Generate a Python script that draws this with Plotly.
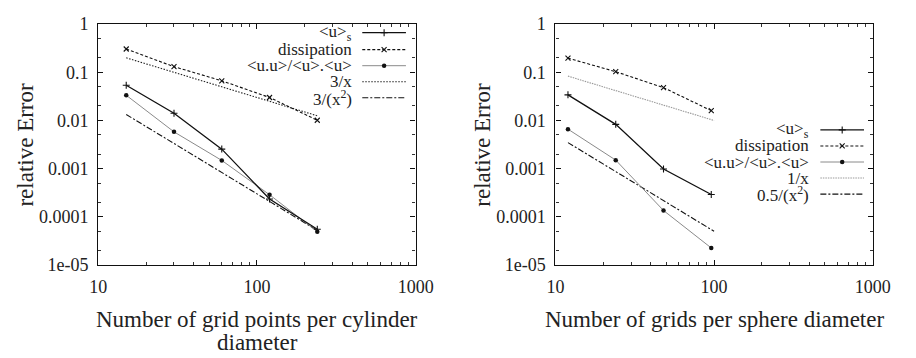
import plotly.graph_objects as go

# ---------------- data ----------------
left_x = [15, 30, 60, 120, 240]
left_us = [0.054, 0.0141, 0.00254, 0.000234, 5.5e-5]
left_diss = [0.305, 0.131, 0.0667, 0.030, 0.0101]
left_uu = [0.0334, 0.0058, 0.00148, 0.000287, 4.9e-5]
left_ref_x = [15, 240]
left_ref1 = [0.2, 0.0125]        # 3/x
left_ref2 = [0.0133, 5.2e-5]     # 3/(x^2)

right_x = [12, 24, 48, 96]
right_us = [0.034, 0.0083, 0.00098, 0.00029]
right_diss = [0.197, 0.103, 0.048, 0.016]
right_uu = [0.0066, 0.0015, 0.000135, 2.25e-5]
right_ref_x = [12, 100]
right_ref1 = [0.0833, 0.01]      # 1/x
right_ref2 = [0.00347, 5e-5]     # 0.5/(x^2)

x_tickvals = [10, 100, 1000]
x_ticktext = ["10", "100", "1000"]
y_tickvals = [1e-5, 1e-4, 1e-3, 1e-2, 1e-1, 1]
y_ticktext = ["1e-05", "0.0001", "0.001", "0.01", "0.1", "1"]

left_names = ["&lt;u&gt;<sub>s</sub>", "dissipation", "&lt;u.u&gt;/&lt;u&gt;.&lt;u&gt;", "3/x", "3/(x<sup>2</sup>)"]
right_names = ["&lt;u&gt;<sub>s</sub>", "dissipation", "&lt;u.u&gt;/&lt;u&gt;.&lt;u&gt;", "1/x", "0.5/(x<sup>2</sup>)"]

left_title = ["Number of grid points per cylinder", "diameter"]
right_title = ["Number of grids per sphere diameter"]
y_title = "relative Error"

# ---------------- styles ----------------
FONT = "Liberation Serif"
W, H = 916, 358
styles = [
    dict(line=dict(color="#111", width=1.3), marker=dict(symbol="cross-thin", size=5, line=dict(color="#111", width=1.1)), mode="lines+markers"),
    dict(line=dict(color="#111", width=1.1, dash="3px,2px"), marker=dict(symbol="x-thin", size=5, line=dict(color="#111", width=1.1)), mode="lines+markers"),
    dict(line=dict(color="#8a8a8a", width=1.0), marker=dict(symbol="circle", size=4.5, color="#111"), mode="lines+markers"),
    dict(line=dict(color="#222", width=1.1, dash="1.5px,1.5px"), mode="lines"),
    dict(line=dict(color="#111", width=1.1, dash="6px,2px,2px,2px"), mode="lines"),
]
right_ref1_style = dict(line=dict(color="#999", width=1.1, dash="1.5px,1px"), mode="lines")

# panel geometry (pixels)
left_px = (92, 419)
right_px = (563, 890)
top_px, bot_px = 15, 270


def px_x(p):
    return p / W


def px_y(p):
    return 1 - p / H


fig = go.Figure()

panels = [
    ("x", "y", left_x, [left_us, left_diss, left_uu], left_ref_x, [left_ref1, left_ref2]),
    ("x2", "y2", right_x, [right_us, right_diss, right_uu], right_ref_x, [right_ref1, right_ref2]),
]
for pi, (xa, ya, xs, series, rx, refs) in enumerate(panels):
    for ri, r in enumerate(refs):
        st = styles[3 + ri]
        if pi == 1 and ri == 0:
            st = right_ref1_style
        fig.add_trace(go.Scatter(x=rx, y=r, xaxis=xa, yaxis=ya, showlegend=False, **st))
    for si, s in reversed(list(enumerate(series))):
        st = styles[si]
        fig.add_trace(go.Scatter(x=xs, y=s, xaxis=xa, yaxis=ya, showlegend=False, **st))

# ---------------- axes ----------------
def xaxis_cfg(dom):
    return dict(
        type="log", range=[1, 3], domain=dom,
        showline=True, linecolor="#111", linewidth=1.3, mirror="allticks",
        ticks="inside", ticklen=5, tickwidth=1, tickcolor="#111",
        tickvals=x_tickvals, ticktext=x_ticktext, ticklabelstandoff=5,
        tickfont=dict(family=FONT, size=18, color="#222"),
        minor=dict(ticks="inside", ticklen=3, tickwidth=1, tickcolor="#333",
                   tickvals=[m * d for d in (10, 100) for m in range(2, 10)]),
        showgrid=False, zeroline=False,
    )


def yaxis_cfg(dom, anchor):
    return dict(
        type="log", range=[-5, 0], domain=dom, anchor=anchor,
        showline=True, linecolor="#111", linewidth=1.3, mirror="allticks",
        ticks="inside", ticklen=5, tickwidth=1, tickcolor="#111",
        tickvals=y_tickvals, ticktext=y_ticktext, ticklabelstandoff=5,
        tickfont=dict(family=FONT, size=18, color="#222"),
        minor=dict(ticks="inside", ticklen=3, tickwidth=1, tickcolor="#333",
                   tickvals=[m * 10.0 ** e for e in range(-5, 0) for m in (2, 5)]),
        showgrid=False, zeroline=False,
    )


ydom = [px_y(bot_px), px_y(top_px)]
fig.update_layout(
    xaxis=dict(xaxis_cfg([px_x(left_px[0]), px_x(left_px[1])]), anchor="y"),
    yaxis=yaxis_cfg(ydom, "x"),
    xaxis2=dict(xaxis_cfg([px_x(right_px[0]), px_x(right_px[1])]), anchor="y2"),
    yaxis2=yaxis_cfg(ydom, "x2"),
    # overlay axes for legend samples (pixel based)
    xaxis3=dict(range=[0, W], domain=[0, 1], visible=False, anchor="y3", fixedrange=True),
    yaxis3=dict(range=[H, 0], domain=[0, 1], visible=False, anchor="x3", fixedrange=True),
)

# ---------------- legends (manual, gnuplot-style) ----------------
leg_cfg = [
    dict(names=left_names, text_right=355, line_x=(364, 409), rows=[24, 42, 59, 76, 93], panel=0),
    dict(names=right_names, text_right=826, line_x=(836, 881), rows=[127, 144, 161, 178, 195], panel=1),
]
annotations = []
for cfg in leg_cfg:
    for i, (name, ry) in enumerate(zip(cfg["names"], cfg["rows"])):
        st = dict(styles[i])
        if cfg["panel"] == 1 and i == 3:
            st = right_ref1_style
        x0, x1 = cfg["line_x"]
        fig.add_trace(go.Scatter(x=[x0, x1], y=[ry, ry], xaxis="x3", yaxis="y3", mode="lines",
                                 line=st["line"], showlegend=False, hoverinfo="skip"))
        if "marker" in st:
            fig.add_trace(go.Scatter(x=[(x0 + x1) / 2], y=[ry], xaxis="x3", yaxis="y3", mode="markers",
                                     marker=st["marker"], showlegend=False, hoverinfo="skip"))
        annotations.append(dict(
            x=cfg["text_right"] / W, y=1 - ry / H, xref="paper", yref="paper",
            xanchor="right", yanchor="middle", text=name, showarrow=False,
            font=dict(family=FONT, size=17, color="#222"),
        ))

# axis titles
title_font = dict(family=FONT, size=23, color="#222")
for cx in (16, 487):
    annotations.append(dict(x=cx / W, y=1 - 143 / H, xref="paper", yref="paper", text=y_title, textangle=-90,
                            showarrow=False, xanchor="center", yanchor="middle", font=title_font))
for cx, lines in ((256, left_title), (727, right_title)):
    for li, t in enumerate(lines):
        annotations.append(dict(x=cx / W, y=1 - (328 + 24.5 * li) / H, xref="paper", yref="paper",
                                text=t, showarrow=False, xanchor="center", yanchor="middle", font=title_font))

fig.update_layout(
    width=W, height=H,
    margin=dict(l=0, r=0, t=0, b=0),
    paper_bgcolor="white", plot_bgcolor="rgba(0,0,0,0)",
    annotations=annotations,
    showlegend=False,
)

fig.write_html("out.html")
